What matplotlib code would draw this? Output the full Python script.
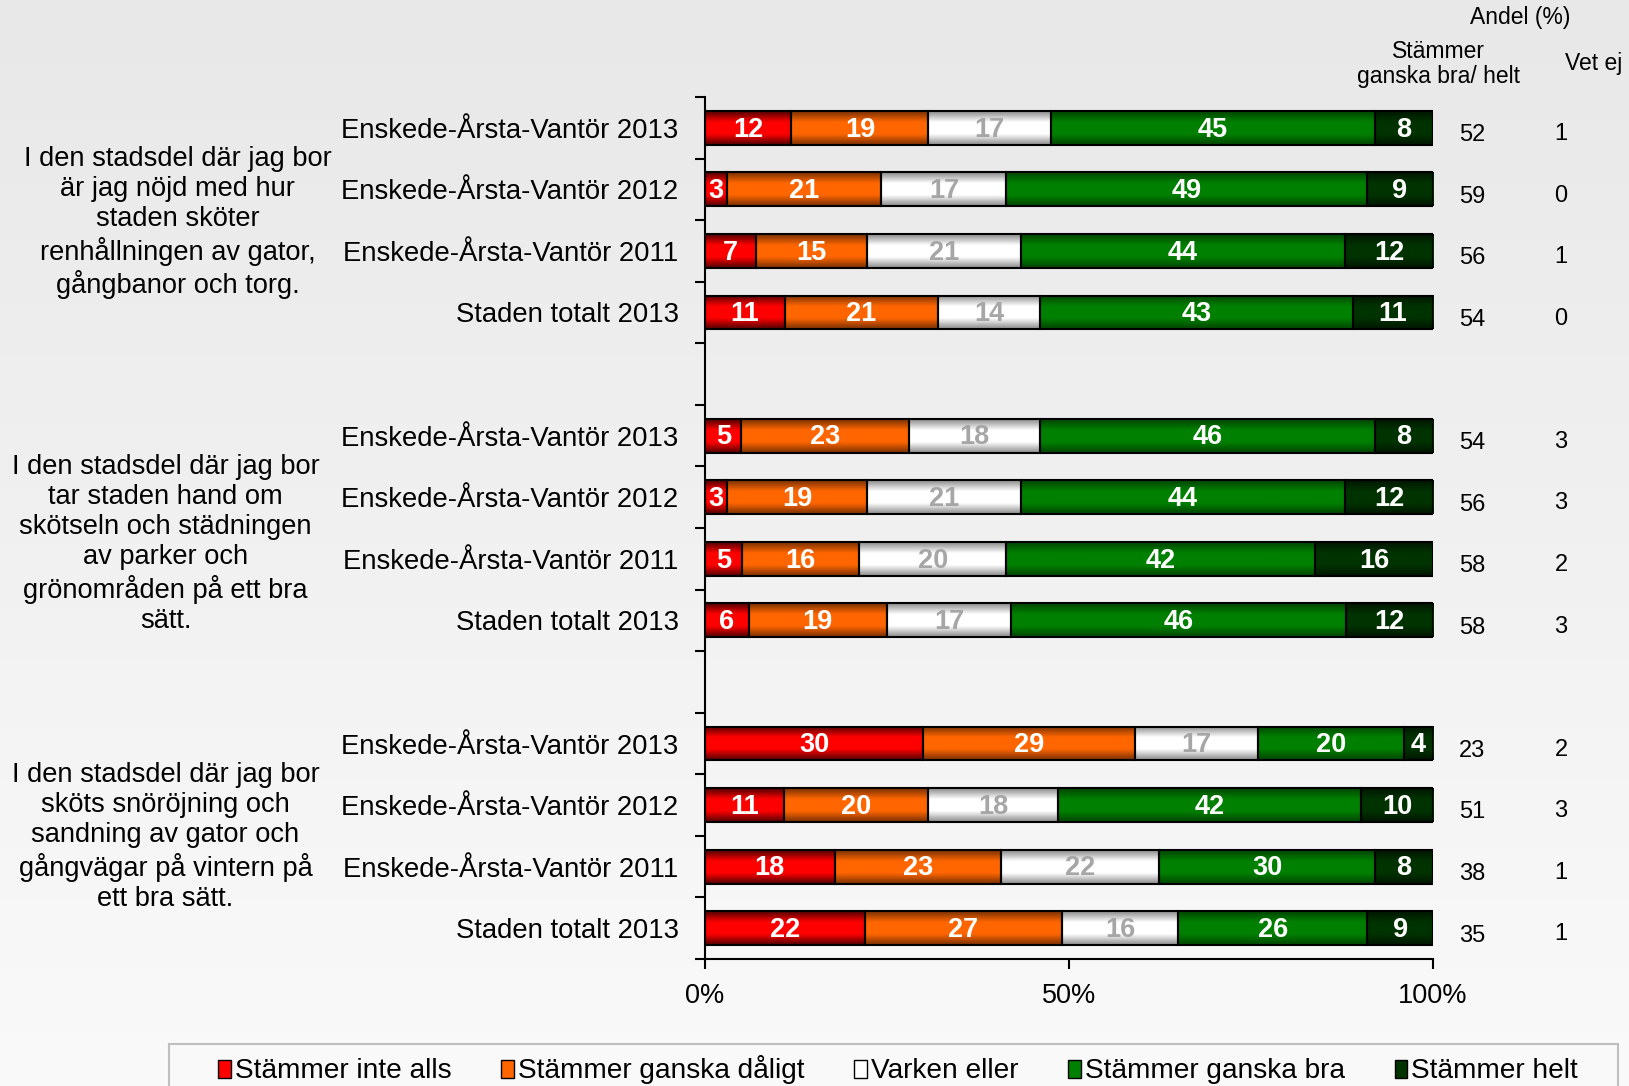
import matplotlib.pyplot as plt
import matplotlib.colors as mcolors
import numpy as np
from matplotlib.patches import Patch, Rectangle

plt.rcParams['font.family'] = ['Liberation Sans', 'DejaVu Sans']

questions = [
    'I den stadsdel där jag bor\när jag nöjd med hur\nstaden sköter\nrenhållningen av gator,\ngångbanor och torg.',
    'I den stadsdel där jag bor\ntar staden hand om\nskötseln och städningen\nav parker och\ngrönområden på ett bra\nsätt.',
    'I den stadsdel där jag bor\nsköts snöröjning och\nsandning av gator och\ngångvägar på vintern på\nett bra sätt.',
]
rows = ['Enskede-Årsta-Vantör 2013', 'Enskede-Årsta-Vantör 2012',
        'Enskede-Årsta-Vantör 2011', 'Staden totalt 2013']
series = ['Stämmer inte alls', 'Stämmer ganska dåligt', 'Varken eller',
          'Stämmer ganska bra', 'Stämmer helt']

# per bar, group by group (3 questions x 4 rows)
inte_alls = [12, 3, 7, 11, 5, 3, 5, 6, 30, 11, 18, 22]
ganska_daligt = [19, 21, 15, 21, 23, 19, 16, 19, 29, 20, 23, 27]
varken = [17, 17, 21, 14, 18, 21, 20, 17, 17, 18, 22, 16]
ganska_bra = [45, 49, 44, 43, 46, 44, 42, 46, 20, 42, 30, 26]
helt = [8, 9, 12, 11, 8, 12, 16, 12, 4, 10, 8, 9]
bra_helt = [52, 59, 56, 54, 54, 56, 58, 58, 23, 51, 38, 35]
vet_ej = [1, 0, 1, 0, 3, 3, 2, 3, 2, 3, 1, 1]

colors = ['#ff0000', '#ff6600', '#ffffff', '#008000', '#003300']
edge_dark = [0.33, 0.48, 0.55, 0.55, 0.45]
text_colors = ['white', 'white', '#a6a6a6', 'white', 'white']


def shade(color, dark, n=40):
    rgb = np.array(mcolors.to_rgb(color))
    t = np.linspace(0, 1, n)
    f = np.clip(np.minimum(t, 1 - t) / 0.32, 0, 1)
    k = dark + (1 - dark) * f
    return (rgb[None, :] * k[:, None])[:, None, :]


fig = plt.figure(figsize=(16.29, 10.86), dpi=100)

# background gradient
bg = fig.add_axes([0, 0, 1, 1], zorder=-5)
grad = np.linspace(0.91, 0.98, 100)[:, None]
bg.imshow(np.dstack([grad, grad, grad]), aspect='auto', extent=[0, 1, 0, 1])
bg.axis('off')

ax = fig.add_axes([705 / 1629, 127 / 1086, 728 / 1629, 862 / 1086])
ax.patch.set_alpha(0)

data = np.array([inte_alls, ganska_daligt, varken, ganska_bra, helt], dtype=float)
totals = data.sum(axis=0)
widths = data / totals * 100
lefts = np.cumsum(widths, axis=0) - widths

n_rows = len(rows)
ypos = []
for g in range(len(questions)):
    for i in range(n_rows):
        ypos.append(g * (n_rows + 1) + i)
ypos = np.array(ypos, dtype=float)
h = 0.55

for s in range(len(series)):
    img = shade(colors[s], edge_dark[s])
    for b in range(len(ypos)):
        l = lefts[s, b]
        w = widths[s, b]
        ax.imshow(img, aspect='auto', interpolation='bilinear',
                  extent=(l, l + w, ypos[b] + h / 2, ypos[b] - h / 2), zorder=2)
        ax.text(l + w / 2, ypos[b] + 0.03, '%d' % data[s, b], ha='center', va='center',
                color=text_colors[s], fontsize=19.5, fontweight='bold', zorder=4)
    ax.barh(ypos, widths[s], left=lefts[s], height=h, facecolor='none',
            edgecolor='black', linewidth=1.5, zorder=3)

n_slots = len(questions) * (n_rows + 1) - 1
ax.set_xlim(0, 100)
ax.set_ylim(n_slots - 0.5, -0.5)

ax.set_yticks(np.arange(-0.5, n_slots, 1))
ax.set_yticklabels([])
ax.set_yticks(ypos, minor=True)
ax.set_yticklabels(rows * len(questions), minor=True)
ax.tick_params(axis='y', which='major', length=7, width=1.5, direction='out')
ax.tick_params(axis='y', which='minor', length=0, pad=19, labelsize=19.8)

ax.set_xticks([0, 50, 100])
ax.set_xticklabels(['0%', '50%', '100%'])
ax.tick_params(axis='x', length=7, width=1.5, pad=10, labelsize=19.5)
for side in ['top', 'right']:
    ax.spines[side].set_visible(False)
for side in ['left', 'bottom']:
    ax.spines[side].set_linewidth(1.5)

# question texts
ytr = ax.get_yaxis_transform()
q_x = [-0.724, -0.741, -0.741]
for g, q in enumerate(questions):
    yc = g * (n_rows + 1) + (n_rows - 1) / 2
    ax.text(q_x[g], yc - 1.2, q, transform=ytr, ha='center', va='top',
            fontsize=19.6, linespacing=1.2, clip_on=False)

# right columns
for b in range(len(ypos)):
    ax.text(1.054, ypos[b] + 0.12, str(bra_helt[b]), transform=ytr, ha='center',
            va='center', fontsize=17, clip_on=False)
    ax.text(1.176, ypos[b] + 0.1, str(vet_ej[b]), transform=ytr, ha='center',
            va='center', fontsize=17, clip_on=False)
ax.text(1.008, -1.04, 'Stämmer\nganska bra/ helt', transform=ytr, ha='center',
        va='center', fontsize=16.5, linespacing=1.1, clip_on=False)
ax.text(1.220, -1.05, 'Vet ej', transform=ytr, ha='center', va='center',
        fontsize=16.5, clip_on=False)
ax.text(1.12, -1.79, 'Andel (%)', transform=ytr, ha='center', va='center',
        fontsize=16.5, clip_on=False)

# legend
frame = Rectangle((169 / 1629, -0.02), (1618 - 169) / 1629, 1 - 1044 / 1086 + 0.02,
                  transform=fig.transFigure, facecolor='#f9f9f9', edgecolor='#bfbfbf',
                  linewidth=1.5, zorder=-1)
fig.add_artist(frame)
handles = [Patch(facecolor=c, edgecolor='black', linewidth=1) for c in colors]
fig.legend(handles, series, loc='center left', bbox_to_anchor=(218 / 1629, 1 - 1070 / 1086),
           ncol=5, frameon=False, fontsize=20.2, handlelength=0.45, handleheight=0.6,
           handletextpad=0.15, columnspacing=1.77, borderpad=0, borderaxespad=0)

fig.savefig('out.png', dpi=100)
